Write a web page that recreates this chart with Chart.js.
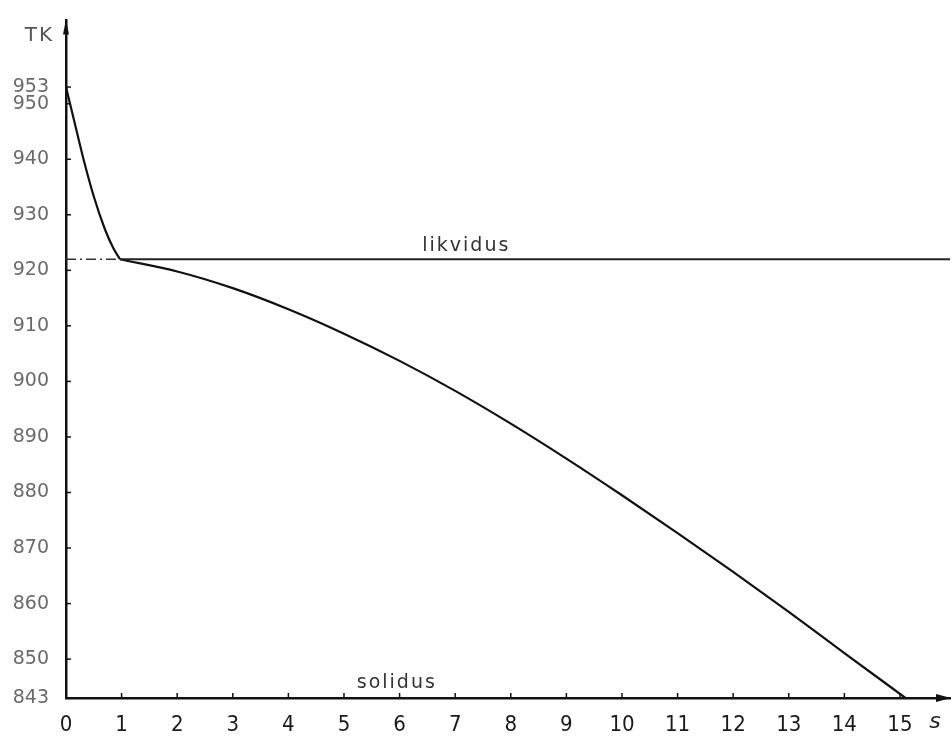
<!DOCTYPE html>
<html>
<head>
<meta charset="utf-8">
<script src="https://cdn.jsdelivr.net/npm/chart.js@4.4.0/dist/chart.umd.min.js"></script>
<style>
  html, body { margin: 0; padding: 0; background: #fff; }
  #wrap { width: 952px; height: 739px; position: relative; }
</style>
</head>
<body>
<div id="wrap"><canvas id="c"></canvas></div>
<script>
// Cooling of the melt down to the liquidus (time s, temperature TK)
const meltTime = [0, 0.15, 0.3, 0.5, 0.7, 0.85, 0.97];
const meltTemp = [953, 946.8, 940.6, 933.3, 927.4, 924.0, 922];

// Solidification between liquidus and solidus
const solidTime = [0.97, 2, 3, 4, 5, 6, 7, 8, 9, 10, 11, 12, 13, 14, 15.1];
const solidTemp = [922, 919.8, 916.8, 913.0, 908.6, 903.7, 898.3, 892.4, 886.1, 879.5, 872.7, 865.7, 858.5, 851.1, 843];

// Reference temperatures
const liquidusT = 922;
const solidusT = 843;

// Axis ticks
const timeTicks = [0, 1, 2, 3, 4, 5, 6, 7, 8, 9, 10, 11, 12, 13, 14, 15];
const tempTicks = [953, 950, 940, 930, 920, 910, 900, 890, 880, 870, 860, 850, 843];

const X_MAX = 15.9;
const Y_MAX = 965;

const pts = (xs, ys) => xs.map((x, i) => ({ x, y: ys[i] }));

const decor = {
  id: 'decor',
  afterDraw(chart) {
    const { ctx, scales: { x, y } } = chart;
    ctx.save();
    ctx.strokeStyle = '#111';
    ctx.lineWidth = 1.5;
    // short inward tick marks
    timeTicks.forEach(v => {
      if (v === 0) return;
      const px = x.getPixelForValue(v);
      ctx.beginPath(); ctx.moveTo(px, y.bottom); ctx.lineTo(px, y.bottom - 5); ctx.stroke();
    });
    tempTicks.forEach(v => {
      const py = y.getPixelForValue(v);
      ctx.beginPath(); ctx.moveTo(x.left, py); ctx.lineTo(x.left + 5, py); ctx.stroke();
    });
    // arrowheads
    ctx.fillStyle = '#111';
    const ax = x.right, ay = y.bottom;
    ctx.beginPath(); ctx.moveTo(ax + 1, ay); ctx.lineTo(ax - 14, ay - 4); ctx.lineTo(ax - 14, ay + 4); ctx.closePath(); ctx.fill();
    const tx = x.left, ty = y.top;
    ctx.beginPath(); ctx.moveTo(tx, ty - 1); ctx.lineTo(tx - 3, ty + 14); ctx.lineTo(tx + 3, ty + 14); ctx.closePath(); ctx.fill();

    // axis names
    ctx.fillStyle = '#555';
    ctx.font = '20px "DejaVu Sans"';
    ctx.textAlign = 'right';
    ctx.textBaseline = 'middle';
    ctx.letterSpacing = '2px';
    ctx.fillText('TK', x.left - 12, y.top + 15);
    ctx.fillStyle = '#222';
    ctx.font = 'italic 22px "DejaVu Sans"';
    ctx.textAlign = 'center';
    ctx.letterSpacing = '0px';
    ctx.fillText('s', x.right - 15, y.bottom + 24);

    // curve names
    ctx.fillStyle = '#333';
    ctx.font = '19px "DejaVu Sans"';
    ctx.letterSpacing = '2px';
    ctx.textBaseline = 'alphabetic';
    ctx.fillText('likvidus', x.getPixelForValue(7.2), y.getPixelForValue(liquidusT) - 8);
    ctx.fillText('solidus', x.getPixelForValue(5.95), y.getPixelForValue(solidusT) - 10);
    ctx.restore();
  }
};

new Chart(document.getElementById('c'), {
  type: 'line',
  data: {
    datasets: [
      {
        data: pts([0, meltTime[meltTime.length - 1]], [liquidusT, liquidusT]),
        borderColor: '#333', borderWidth: 1.5, borderDash: [10, 4, 2, 4],
        pointRadius: 0, tension: 0
      },
      {
        data: pts([meltTime[meltTime.length - 1], X_MAX], [liquidusT, liquidusT]),
        borderColor: '#222', borderWidth: 2, pointRadius: 0, tension: 0
      },
      {
        data: pts(meltTime, meltTemp),
        borderColor: '#111', borderWidth: 2.2, pointRadius: 0,
        cubicInterpolationMode: 'monotone'
      },
      {
        data: pts(solidTime, solidTemp),
        borderColor: '#111', borderWidth: 2.2, pointRadius: 0,
        cubicInterpolationMode: 'monotone'
      }
    ]
  },
  options: {
    responsive: true,
    maintainAspectRatio: false,
    animation: false,
    layout: { padding: { top: 6, right: 2, left: 0, bottom: 0 } },
    plugins: { legend: { display: false }, tooltip: { enabled: false } },
    scales: {
      x: {
        type: 'linear', min: 0, max: X_MAX,
        grid: { display: false },
        border: { display: true, color: '#111', width: 2.5 },
        afterBuildTicks: s => { s.ticks = timeTicks.map(v => ({ value: v })); },
        afterFit: s => { s.height = 41; },
        ticks: {
          autoSkip: false, maxRotation: 0, padding: 6,
          color: '#1a1a1a',
          font: { family: '"Liberation Sans Narrow", "DejaVu Sans Condensed", sans-serif', size: 22 }
        }
      },
      y: {
        type: 'linear', min: solidusT, max: Y_MAX,
        grid: { display: false },
        border: { display: true, color: '#111', width: 2.5 },
        afterBuildTicks: s => { s.ticks = tempTicks.map(v => ({ value: v })); },
        afterFit: s => { s.width = 66; },
        ticks: {
          autoSkip: false, padding: 9,
          color: '#6a6a6a',
          font: { family: '"DejaVu Sans", sans-serif', size: 19 }
        }
      }
    }
  },
  plugins: [decor]
});
</script>
</body>
</html>
